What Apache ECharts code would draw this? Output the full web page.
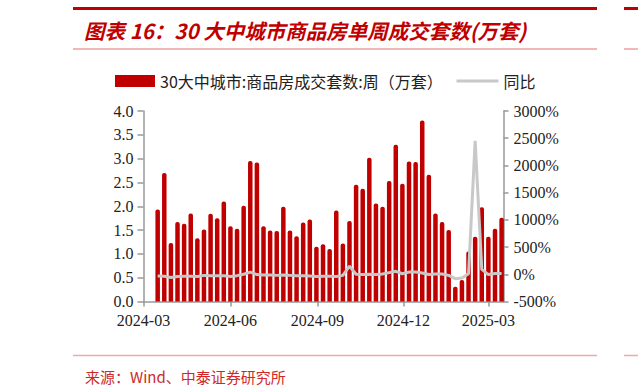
<!DOCTYPE html>
<html>
<head>
<meta charset="utf-8">
<script src="https://cdn.jsdelivr.net/npm/echarts@6/dist/echarts.min.js"></script>
<style>
html,body{margin:0;padding:0;background:#fff;}
#c{width:638px;height:387px;}
</style>
</head>
<body>
<div id="c"></div>
<script>
const weeks = ['2024-03-16','2024-03-23','2024-03-30','2024-04-06','2024-04-13','2024-04-20','2024-04-27',
'2024-05-04','2024-05-11','2024-05-18','2024-05-25','2024-06-01','2024-06-08','2024-06-15','2024-06-22','2024-06-29',
'2024-07-06','2024-07-13','2024-07-20','2024-07-27','2024-08-03','2024-08-10','2024-08-17','2024-08-24','2024-08-31',
'2024-09-07','2024-09-14','2024-09-21','2024-09-28','2024-10-05','2024-10-12','2024-10-19','2024-10-26',
'2024-11-02','2024-11-09','2024-11-16','2024-11-23','2024-11-30','2024-12-07','2024-12-14','2024-12-21','2024-12-28',
'2025-01-04','2025-01-11','2025-01-18','2025-01-25','2025-02-01','2025-02-08','2025-02-15','2025-02-22',
'2025-03-01','2025-03-08','2025-03-15'];

const deals = [1.93,2.70,1.23,1.67,1.63,1.85,1.33,1.51,1.84,1.75,2.10,1.58,1.53,2.01,2.95,2.92,
1.58,1.49,1.48,1.99,1.49,1.37,1.66,1.72,1.15,1.20,1.10,1.91,1.22,1.69,2.45,2.37,3.02,
2.06,1.99,2.53,3.29,2.47,2.94,2.93,3.80,2.66,1.85,1.67,1.50,0.31,0.45,1.05,1.36,1.98,
1.36,1.53,1.76];

const yoy = [-30,-35,-60,-40,-35,-35,-40,-20,-25,-25,-25,-40,-25,0,40,-5,
-15,-15,-20,-15,-20,-25,-25,-30,-40,-35,-35,-40,-20,150,0,-5,0,
-5,5,30,55,10,40,40,25,-5,5,5,-20,-80,-70,10,2450,90,
-5,15,15];

const xTickLabels = ['2024-03','2024-06','2024-09','2024-12','2025-03'];
const xRange = ['2024-03-01','2025-03-17'];
const leftTicks = {min:0, max:4, interval:0.5};
const rightTicks = {min:-500, max:3000, interval:500};

const seriesNames = ['30大中城市:商品房成交套数:周（万套）','同比'];
const titleText = '图表 16：30 大中城市商品房单周成交套数(万套)';
const sourceText = '来源：Wind、中泰证券研究所';

const chart = echarts.init(document.getElementById('c'), null, {renderer:'svg'});
const P = s => { const a = s.split('-').map(Number); return Date.UTC(a[0], a[1]-1, a[2]); };
const tickVals = xTickLabels.map(l => P(l + '-01'));

const serif = '"Liberation Serif","Times New Roman",serif';
const cjk = '"Noto Sans CJK SC","Noto Sans",sans-serif';
const axisGrey = '#999999';

chart.setOption({
  animation:false,
  backgroundColor:'#ffffff',
  title:[
    {text:titleText, left:84, top:20, padding:0,
     textStyle:{color:'#C00000', fontSize:20.5, fontWeight:'bold', fontStyle:'italic', fontFamily:cjk}},
    {text:sourceText, left:85, top:369, padding:0,
     textStyle:{color:'#D02828', fontSize:15, fontWeight:'normal', fontFamily:cjk}}
  ],
  graphic:[
    {type:'rect', shape:{x:73, y:7, width:524, height:3}, style:{fill:'#C00000'}, silent:true},
    {type:'rect', shape:{x:624, y:7, width:14, height:3}, style:{fill:'#C00000'}, silent:true},
    {type:'line', shape:{x1:73, y1:49, x2:597, y2:49}, style:{stroke:'#E07070', lineWidth:1}, silent:true},
    {type:'line', shape:{x1:624, y1:49, x2:638, y2:49}, style:{stroke:'#E07070', lineWidth:1}, silent:true},
    {type:'line', shape:{x1:73, y1:355.5, x2:597, y2:355.5}, style:{stroke:'#F0A8A8', lineWidth:1.5}, silent:true},
    {type:'line', shape:{x1:624, y1:355.5, x2:638, y2:355.5}, style:{stroke:'#F0A8A8', lineWidth:1.5}, silent:true}
  ],
  legend:[
    {left:115, top:73, padding:0, itemWidth:40, itemHeight:12,
     textStyle:{color:'#222', fontSize:16, fontFamily:cjk},
     data:[{name:seriesNames[0], icon:'rect'}]},
    {left:455, top:73, padding:0, itemWidth:42, itemHeight:3,
     textStyle:{color:'#222', fontSize:16, fontFamily:cjk},
     data:[{name:seriesNames[1], lineStyle:{width:3, color:'#C8C8C8'}}]}
  ],
  grid:{left:143.5, right:134.5, top:111, bottom:85.5, containLabel:false},
  xAxis:{
    type:'value',
    min:P(xRange[0]), max:P(xRange[1]),
    axisLine:{lineStyle:{color:axisGrey, width:1.5}},
    axisTick:{show:true, length:5, inside:false, customValues:tickVals, lineStyle:{color:axisGrey, width:1.5}},
    axisLabel:{customValues:tickVals, margin:11, color:'#222', fontSize:16, fontFamily:serif,
      formatter:function(v){ const i = tickVals.indexOf(v); return i>=0 ? xTickLabels[i] : ''; },
      showMinLabel:true, showMaxLabel:true},
    splitLine:{show:false}
  },
  yAxis:[
    {type:'value', min:leftTicks.min, max:leftTicks.max, interval:leftTicks.interval,
     axisLine:{show:true, lineStyle:{color:axisGrey, width:1.5}},
     axisTick:{show:true, length:6, lineStyle:{color:axisGrey, width:1.5}},
     axisLabel:{margin:10, color:'#222', fontSize:16, fontFamily:serif,
       formatter:v => v.toFixed(1)},
     splitLine:{show:false}},
    {type:'value', min:rightTicks.min, max:rightTicks.max, interval:rightTicks.interval, position:'right',
     axisLine:{show:true, lineStyle:{color:axisGrey, width:1.5}},
     axisTick:{show:true, length:5, lineStyle:{color:axisGrey, width:1.5}},
     axisLabel:{margin:10, color:'#222', fontSize:16, fontFamily:serif,
       formatter:v => v + '%'},
     splitLine:{show:false}}
  ],
  series:[
    {name:seriesNames[0], type:'bar', yAxisIndex:0, barWidth:4.5,
     itemStyle:{color:'#C00000', borderRadius:[2,2,0,0]},
     data:weeks.map((d,i)=>[P(d), deals[i]])},
    {name:seriesNames[1], type:'line', yAxisIndex:1, symbol:'none', smooth:false,
     lineStyle:{color:'#C8C8C8', width:3}, itemStyle:{color:'#C8C8C8'}, z:3,
     data:weeks.map((d,i)=>[P(d), yoy[i]])}
  ]
});
</script>
</body>
</html>
